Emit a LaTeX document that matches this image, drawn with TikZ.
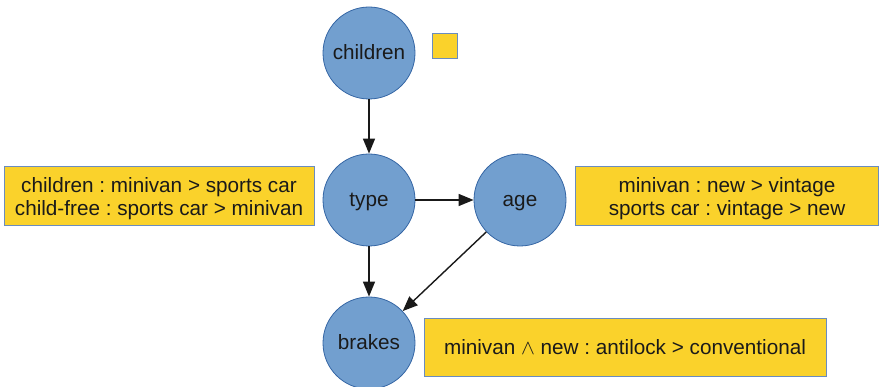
\documentclass[tikz,border=0pt]{standalone}
\usepackage{fontspec}
\setmainfont{Liberation Sans}
\usetikzlibrary{arrows.meta}
\definecolor{nodeblue}{HTML}{729FCF}
\definecolor{nodeline}{HTML}{3465A4}
\definecolor{boxyellow}{HTML}{FAD22B}
\definecolor{boxline}{HTML}{6A8CBF}
\definecolor{textdark}{HTML}{1A1A1A}
\newcommand{\lowr}[1]{\raisebox{-2.5pt}[\height][\depth]{#1}}
\frenchspacing
\begin{document}
\begin{tikzpicture}[x=1pt,y=-1pt,
  var/.style={circle,draw=nodeline,fill=nodeblue,line width=0.8pt,minimum size=92pt,inner sep=0pt,text height=18pt,text depth=4pt,text=textdark,font=\fontsize{20.7}{24}\selectfont\frenchspacing},
  cpt/.style={draw=boxline,fill=boxyellow,line width=0.8pt,inner sep=0pt,text=textdark,align=center,font=\fontsize{20.7}{23.5}\selectfont\frenchspacing},
  link/.style={-{Triangle[length=15pt,width=12pt]},line width=1.4pt,draw=black!90}]
\useasboundingbox (0,0) rectangle (879,387);
\node[var] (children) at (369,53) {children};
\node[var] (type) at (369,200) {type};
\node[var] (age) at (520,200) {age};
\node[var] (brakes) at (369,343) {brakes};
\node[cpt,minimum width=25pt,minimum height=25pt] (sq) at (444.5,45.5) {};
\node[cpt,minimum width=310pt,minimum height=59pt] (lbox) at (159,196) {\lowr{children : minivan > sports car}\\\lowr{child-free : sports car > minivan}};
\node[cpt,minimum width=303pt,minimum height=59pt] (rbox) at (727,196) {\lowr{minivan : new > vintage}\\\lowr{sports car : vintage > new}};
\node[cpt,minimum width=402pt,minimum height=58pt] (bbox) at (625,347.5) {minivan $\wedge$ new : antilock > conventional};
\draw[link] (children) -- (type);
\draw[link] (type) -- (age);
\draw[link] (type) -- (brakes);
\draw[link] (age) -- (brakes);
\end{tikzpicture}
\end{document}
